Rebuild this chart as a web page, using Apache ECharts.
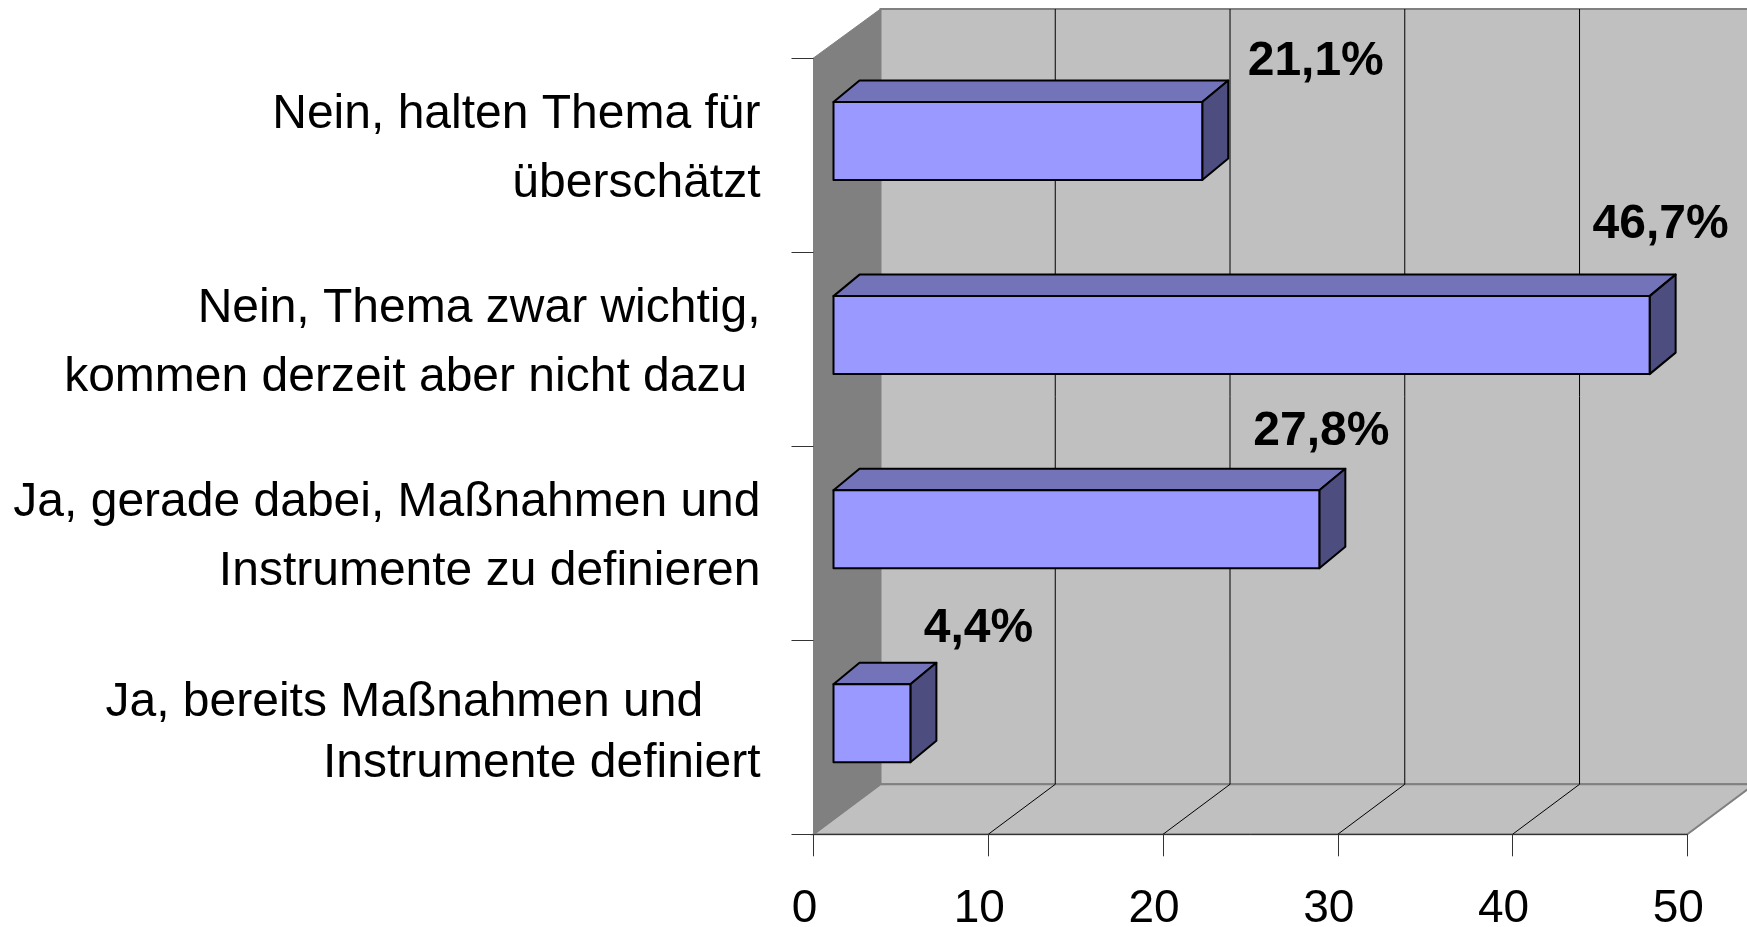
<!DOCTYPE html>
<html lang="de" style="height: 100%">

<head>
  <meta charset="utf-8">
  <style>
    html,body {
      margin: 0;
      padding: 0;
      width: 100%;
      height: 100%;
      overflow: hidden;
      background: #fff;
    }
  </style>
</head>

<body>
  <div id="container" style="height: 100%;width: 100%;"></div>

  <script type="text/javascript" src="https://cdn.jsdelivr.net/npm/echarts@6/dist/echarts.min.js"></script>
  <script type="text/javascript">
    // data, top to bottom as in the picture
    const categories = [
      'Nein, halten Thema für\nüberschätzt',
      'Nein, Thema zwar wichtig,\nkommen derzeit aber nicht dazu\u00a0',
      'Ja, gerade dabei, Maßnahmen und\nInstrumente zu definieren',
      'Ja, bereits Maßnahmen und\u00a0\u00a0\u00a0\u00a0\u200a\nInstrumente definiert'
    ];
    const values = [21.1, 46.7, 27.8, 4.4];
    const xTicks = [0, 10, 20, 30, 40, 50];

    // layout of the fake 3d box, in pixels
    const wallDx = 67, wallDy = 50, wallTopDy = 49;
    const barDx = 26, barDy = 21.5;
    const barStart = 20, barShiftY = -14, barHeight = 78;
    const labelOffsets = [[113.5, -40], [11, -71], [2, -58], [68, -55]];

    const fontName = '"Liberation Sans", Arial, sans-serif';

    function renderWalls(params, api) {
      const g = params.coordSys;
      const left = g.x, right = g.x + g.width, top = g.y, bottom = g.y + g.height;
      const edge = { fill: '#c0c0c0', stroke: '#808080', lineWidth: 2 };
      const children = [
        { type: 'polygon', shape: { points: [[left + wallDx, top - wallTopDy], [right + wallDx, top - wallTopDy], [right + wallDx, bottom - wallDy], [left + wallDx, bottom - wallDy]] }, style: edge },
        { type: 'polygon', shape: { points: [[left, bottom], [left + wallDx, bottom - wallDy], [right + wallDx, bottom - wallDy], [right, bottom]] }, style: edge },
        { type: 'polygon', shape: { points: [[left, top], [left + wallDx, top - wallTopDy], [left + wallDx, bottom - wallDy], [left, bottom]] }, style: { fill: '#808080', stroke: '#808080', lineWidth: 1 } }
      ];
      xTicks.slice(1, -1).forEach(function (t) {
        const x = api.coord([t, 0])[0];
        children.push({ type: 'polyline', shape: { points: [[x, bottom], [x + wallDx, bottom - wallDy], [x + wallDx, top - wallTopDy]] }, style: { fill: 'none', stroke: '#000', lineWidth: 1 } });
      });
      return { type: 'group', children: children };
    }

    function renderBar(params, api) {
      const g = params.coordSys;
      const p = api.coord([api.value(0), api.value(1)]);
      const x0 = g.x + barStart, x1 = p[0] + barStart;
      const y0 = p[1] + barShiftY - barHeight / 2, y1 = y0 + barHeight;
      const line = { stroke: '#000', lineWidth: 2, lineJoin: 'round' };
      const off = labelOffsets[params.dataIndex];
      return {
        type: 'group',
        children: [
          { type: 'polygon', shape: { points: [[x0, y0], [x0 + barDx, y0 - barDy], [x1 + barDx, y0 - barDy], [x1, y0]] }, style: Object.assign({ fill: '#7373b9' }, line) },
          { type: 'polygon', shape: { points: [[x1, y0], [x1 + barDx, y0 - barDy], [x1 + barDx, y1 - barDy], [x1, y1]] }, style: Object.assign({ fill: '#4d4d80' }, line) },
          { type: 'polygon', shape: { points: [[x0, y0], [x1, y0], [x1, y1], [x0, y1]] }, style: Object.assign({ fill: '#9999ff' }, line) },
          {
            type: 'text',
            style: {
              text: api.value(0).toFixed(1).replace('.', ',') + '%',
              x: x1 + off[0], y: y0 + off[1],
              textAlign: 'center', textVerticalAlign: 'middle',
              fontFamily: fontName, fontWeight: 'bold', fontSize: 48, fill: '#000'
            }
          }
        ]
      };
    }

    // labels sit a little above the band centre, a thin extra line pushes them up
    function formatCategory(value) {
      const style = value.indexOf('bereits') > -1 ? 'tight' : 'wide';
      const pad = style === 'tight' ? 'padS' : 'padL';
      return value.split('\n').map(function (s) {
        return '{' + style + '|' + s + '}';
      }).join('\n') + '\n{' + pad + '|\u00a0}';
    }

    var dom = document.getElementById('container');
    var myChart = echarts.init(dom, null, { renderer: 'canvas' });

    var option = {
      animation: false,
      backgroundColor: '#fff',
      grid: { left: 813.5, top: 58, width: 873.8, height: 776.3, outerBoundsMode: 'none' },
      xAxis: {
        type: 'value',
        min: xTicks[0],
        max: xTicks[xTicks.length - 1],
        interval: 10,
        z: 5,
        splitLine: { show: false },
        axisLine: { show: true, lineStyle: { color: '#333', width: 1 } },
        axisTick: { show: true, length: 22, lineStyle: { color: '#333', width: 1 } },
        axisLabel: {
          margin: 52,
          padding: [0, 18, 0, 0],
          fontFamily: fontName,
          fontSize: 46,
          color: '#000'
        }
      },
      yAxis: {
        type: 'category',
        inverse: true,
        data: categories,
        z: 5,
        splitLine: { show: false },
        axisLine: { show: true, lineStyle: { color: '#808080', width: 1 } },
        axisTick: { show: true, length: 22, lineStyle: { color: '#333', width: 1 } },
        axisLabel: {
          margin: 53,
          align: 'right',
          formatter: formatCategory,
          fontFamily: fontName,
          fontSize: 48,
          color: '#000',
          rich: {
            wide: { fontFamily: fontName, fontSize: 48, color: '#000', lineHeight: 69 },
            tight: { fontFamily: fontName, fontSize: 48, color: '#000', lineHeight: 61 },
            padL: { fontSize: 1, lineHeight: 11 },
            padS: { fontSize: 1, lineHeight: 7 }
          }
        }
      },
      series: [{
        type: 'custom',
        z: 1,
        silent: true,
        renderItem: renderWalls,
        data: [[0, 0]]
      }, {
        type: 'custom',
        z: 2,
        renderItem: renderBar,
        encode: { x: 0, y: 1 },
        data: values.map(function (v, i) { return [v, i]; })
      }]
    };

    myChart.setOption(option);
    window.addEventListener('resize', myChart.resize);
  </script>
</body>

</html>
